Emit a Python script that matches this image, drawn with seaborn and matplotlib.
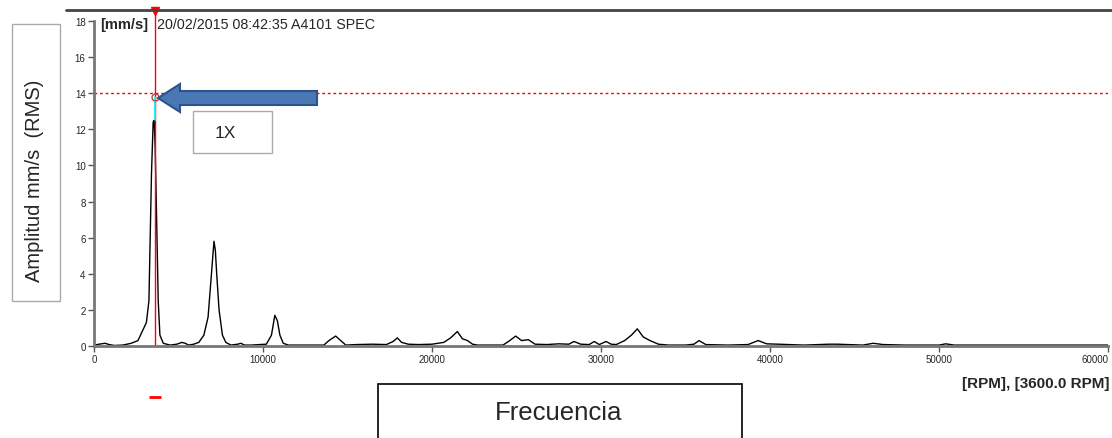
import matplotlib
matplotlib.use("Agg")
import matplotlib.pyplot as plt
from matplotlib.patches import FancyArrow, Rectangle
from matplotlib.lines import Line2D
import pandas as pd
import seaborn as sns

# spectrum trace (rpm, mm/s RMS)
rpm = [0, 300, 650, 900, 1200, 1700, 2200, 2600, 2900, 3100, 3250, 3400, 3500, 3560,
       3620, 3700, 3800, 3900, 4100, 4500, 4900, 5200, 5400, 5600, 5900, 6200, 6500,
       6750, 6950, 7100, 7180, 7260, 7400, 7600, 7800, 8100, 8500, 8700, 8900, 9300,
       9800, 10200, 10500, 10700, 10850, 11000, 11200, 11500, 12000, 12800, 13600,
       13900, 14300, 14600, 14900, 15500, 16500, 17300, 17700, 17950, 18200, 18600,
       19200, 20000, 20700, 21100, 21500, 21800, 22100, 22400, 22700, 23200, 24200,
       24600, 24950, 25300, 25700, 26100, 26800, 27500, 28100, 28400, 28800, 29300,
       29600, 29900, 30300, 30600, 30900, 31400, 31800, 32150, 32500, 32900, 33400,
       34000, 35000, 35500, 35800, 36200, 37500, 38700, 39300, 39800, 40500, 42000,
       43500, 44000, 45500, 46100, 46700, 48000, 50000, 50400, 50900, 53000, 56000,
       58000, 60000]
amp = [0.05, 0.1, 0.15, 0.08, 0.03, 0.05, 0.15, 0.3, 0.9, 1.3, 2.5, 9.5, 12.4, 12.5,
       11.0, 7.3, 2.5, 0.6, 0.15, 0.05, 0.1, 0.2, 0.15, 0.05, 0.1, 0.2, 0.6,
       1.6, 4.0, 5.8, 5.3, 4.0, 2.0, 0.6, 0.2, 0.05, 0.1, 0.15, 0.05, 0.05,
       0.08, 0.1, 0.6, 1.7, 1.4, 0.6, 0.15, 0.05, 0.05, 0.05, 0.05,
       0.3, 0.55, 0.3, 0.05, 0.08, 0.1, 0.08, 0.25, 0.45, 0.2, 0.1,
       0.08, 0.1, 0.2, 0.45, 0.8, 0.4, 0.3, 0.1, 0.05, 0.05, 0.05,
       0.3, 0.55, 0.3, 0.35, 0.1, 0.08, 0.12, 0.1, 0.25, 0.1, 0.08,
       0.25, 0.08, 0.25, 0.1, 0.08, 0.3, 0.6, 0.95, 0.5, 0.3, 0.1,
       0.05, 0.05, 0.1, 0.3, 0.08, 0.05, 0.08, 0.3, 0.12, 0.1, 0.05,
       0.1, 0.1, 0.05, 0.15, 0.08, 0.05, 0.05, 0.12, 0.05, 0.05, 0.05,
       0.05, 0.05]

x_ticks = [0, 10000, 20000, 30000, 40000, 50000, 60000]
y_ticks = [0, 2, 4, 6, 8, 10, 12, 14, 16, 18]
cursor_rpm = 3600
cursor_amp = 13.8
peak_amp = 12.5
ref_level = 14

sns.set_style("ticks")
plt.rcParams['font.family'] = ['Liberation Sans', 'DejaVu Sans']

fig = plt.figure(figsize=(11.12, 4.39), dpi=100)
ax = fig.add_axes([94/1112, 1 - 347/439, 1014/1112, 325/439])

df = pd.DataFrame({"rpm": rpm, "amp": amp})
sns.lineplot(data=df, x="rpm", y="amp", ax=ax, color="black", linewidth=1.0)

ax.set_xlim(0, 60000)
ax.set_ylim(0, 18)
ax.set_xticks(x_ticks)
ax.set_xticklabels([str(t) for t in x_ticks], fontsize=7)
ax.get_xticklabels()[-1].set_horizontalalignment("right")
ax.set_yticks(y_ticks)
ax.set_yticklabels([str(t) for t in y_ticks], fontsize=7)
ax.tick_params(axis="both", length=4, width=1, color="#555555", pad=2)
ax.set_xlabel("")
ax.set_ylabel("")
for s in ["top", "right"]:
    ax.spines[s].set_visible(False)
for s in ["left", "bottom"]:
    ax.spines[s].set_color("#777777")
    ax.spines[s].set_linewidth(2)

# cursor and reference level
ax.axhline(ref_level, color="red", linestyle=(0, (2, 2)), linewidth=1)
ax.plot([cursor_rpm, cursor_rpm], [0, 18.6], color="red", linewidth=1, clip_on=False)
ax.plot([cursor_rpm, cursor_rpm], [peak_amp, cursor_amp], color="cyan", linewidth=1.2)
ax.plot([cursor_rpm], [cursor_amp], marker="o", markersize=5, markerfacecolor="none",
        markeredgecolor="#c04040", markeredgewidth=1)
ax.plot([cursor_rpm], [18.55], marker="v", markersize=6, color="red", clip_on=False)
ax.plot([cursor_rpm], [-2.8], marker="_", markersize=8, color="red", mew=2, clip_on=False)

# top border line
fig.add_artist(Line2D([66/1112, 1], [1 - 11/439, 1 - 11/439], color="#444444", linewidth=2))

# header
fig.text(100/1112, 1 - 25/439, "[mm/s]", fontsize=10.5, fontweight="bold",
         va="center", ha="left")
fig.text(157/1112, 1 - 25/439, "20/02/2015 08:42:35 A4101 SPEC",
         fontsize=10.3, va="center", ha="left")
fig.text(1110/1112, 1 - 384/439, "[RPM], [3600.0 RPM]", fontsize=11,
         fontweight="bold", va="center", ha="right")

# arrow pointing at the 1X peak
arrow = FancyArrow(317/1112, 1 - 99/439, -159/1112, 0, width=14/439, head_width=28/439,
                   head_length=22/1112, length_includes_head=True, transform=fig.transFigure,
                   facecolor="#4a78b5", edgecolor="#2f528f", linewidth=1.5)
fig.add_artist(arrow)

# annotation boxes
fig.add_artist(Rectangle((193/1112, 1 - 154/439), 79/1112, 42/439, transform=fig.transFigure,
                         facecolor="white", edgecolor="#aaaaaa", linewidth=1))
fig.text(215/1112, 1 - 133/439, "1X", fontsize=12.5, va="center", ha="left")

fig.add_artist(Rectangle((12/1112, 1 - 302/439), 48/1112, 277/439, transform=fig.transFigure,
                         facecolor="white", edgecolor="#aaaaaa", linewidth=1))
fig.text(35/1112, 1 - 181/439, "Amplitud mm/s  (RMS)", fontsize=14.5, rotation=90,
         va="center", ha="center")

fig.add_artist(Rectangle((378/1112, -10/439), 364/1112, 64/439,
                         transform=fig.transFigure, facecolor="white", edgecolor="black",
                         linewidth=1.2))
fig.text(559/1112, 1 - 413/439, "Frecuencia", fontsize=18.5, va="center", ha="center")

fig.savefig("out.png", dpi=100)
